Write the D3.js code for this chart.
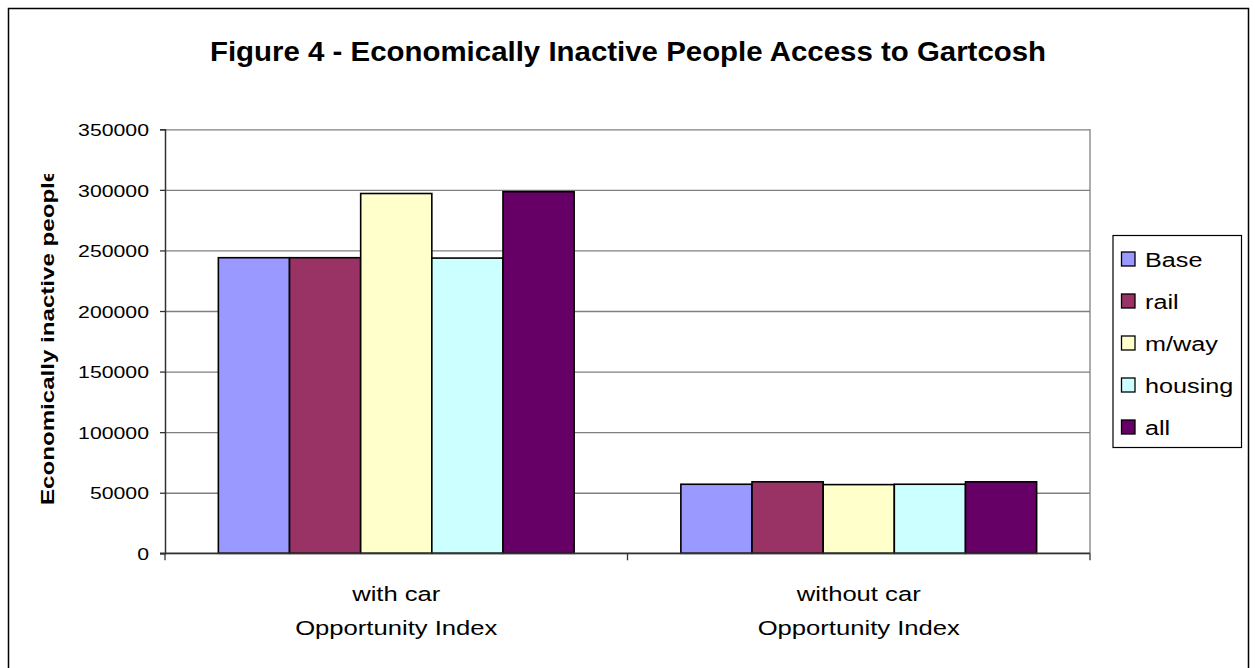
<!DOCTYPE html>
<html>
<head>
<meta charset="utf-8">
<script src="https://cdn.jsdelivr.net/npm/d3@7"></script>
<style>
  html, body { margin: 0; padding: 0; background: #fff; }
  svg { display: block; font-family: "Liberation Sans", Arial, sans-serif; }
</style>
</head>
<body>
<svg id="chart" width="1255" height="668"></svg>
<script>
// Chart data
const categories = ["with car", "without car"];
const categorySubLabel = "Opportunity Index";
const seriesNames = ["Base", "rail", "m/way", "housing", "all"];
const seriesColors = ["#9999FF", "#993366", "#FFFFCC", "#CCFFFF", "#660066"];
const baseValues    = [244000, 57000];
const railValues    = [244000, 59000];
const mwayValues    = [297000, 56700];
const housingValues = [243700, 57000];
const allValues     = [298500, 59000];
const yTickValues = [0, 50000, 100000, 150000, 200000, 250000, 300000, 350000];
const titleText = "Figure 4 - Economically Inactive People Access to Gartcosh";
const yAxisTitle = "Economically inactive people";

const seriesValues = [baseValues, railValues, mwayValues, housingValues, allValues];

const svg = d3.select("#chart");
const plot = { left: 165, right: 1090, top: 129.3, bottom: 553.3 };
const stretch = 1.25; // horizontal widening of the text glyphs

// Outer chart border
svg.append("rect")
  .attr("x", 8.5).attr("y", 8.5)
  .attr("width", 1240).attr("height", 700)
  .attr("fill", "#fff").attr("stroke", "#000").attr("stroke-width", 1.5);

// Title
svg.append("text")
  .attr("transform", `translate(628,61) scale(1.09,1)`)
  .attr("text-anchor", "middle")
  .attr("font-weight", "bold")
  .attr("font-size", 27)
  .text(titleText);

// Scales
const y = d3.scaleLinear().domain([0, 350000]).range([plot.bottom, plot.top]);
const x0 = d3.scaleBand().domain(categories)
  .range([plot.left, plot.right])
  .paddingInner(1.5 / 6.5).paddingOuter(0.75 / 6.5);
const x1 = d3.scaleBand().domain(seriesNames).range([0, x0.bandwidth()]).padding(0);
const color = d3.scaleOrdinal().domain(seriesNames).range(seriesColors);

// Gridlines
const grid = svg.append("g")
  .attr("transform", `translate(${plot.left},0)`)
  .call(d3.axisLeft(y).tickValues(yTickValues).tickSize(-(plot.right - plot.left)).tickFormat(""));
grid.select(".domain").remove();
grid.selectAll(".tick line").attr("stroke", "#808080").attr("stroke-width", 1.3);

// Plot area right border
svg.append("line")
  .attr("x1", plot.right).attr("x2", plot.right)
  .attr("y1", plot.top).attr("y2", plot.bottom)
  .attr("stroke", "#808080").attr("stroke-width", 1.3);

// Bars
const rows = seriesNames.map((name, i) => ({ name, values: seriesValues[i] }));
const barData = [];
categories.forEach((cat, ci) => {
  rows.forEach(r => barData.push({ cat, name: r.name, value: r.values[ci] }));
});
svg.append("g").selectAll("rect")
  .data(barData)
  .join("rect")
  .attr("x", d => x0(d.cat) + x1(d.name))
  .attr("y", d => y(d.value))
  .attr("width", x1.bandwidth())
  .attr("height", d => y(0) - y(d.value))
  .attr("fill", d => color(d.name))
  .attr("stroke", "#000")
  .attr("stroke-width", 1.6);

// Y axis
const yAxis = svg.append("g")
  .attr("transform", `translate(${plot.left},0)`)
  .call(d3.axisLeft(y).tickValues(yTickValues).tickSize(5).tickFormat(d => String(d)));
yAxis.select(".domain").attr("stroke", "#333").attr("stroke-width", 1.5);
yAxis.selectAll(".tick line").attr("stroke", "#333").attr("stroke-width", 1.3);
yAxis.selectAll(".tick text")
  .attr("font-family", "'Liberation Sans', Arial, sans-serif")
  .attr("font-size", 17)
  .attr("fill", "#000")
  .attr("x", -16 / stretch)
  .attr("dy", "0.36em")
  .attr("transform", `scale(${stretch},1)`);

// X axis
const catBounds = [plot.left, (plot.left + plot.right) / 2, plot.right];
const xAxis = svg.append("g");
xAxis.append("line")
  .attr("x1", plot.left - 5).attr("x2", plot.right)
  .attr("y1", plot.bottom).attr("y2", plot.bottom)
  .attr("stroke", "#333").attr("stroke-width", 1.5);
xAxis.selectAll(".xtick")
  .data(catBounds)
  .join("line")
  .attr("class", "xtick")
  .attr("x1", d => d).attr("x2", d => d)
  .attr("y1", plot.bottom).attr("y2", plot.bottom + 7)
  .attr("stroke", "#333").attr("stroke-width", 1.3);

const catLabels = xAxis.selectAll(".cat")
  .data(categories)
  .join("g")
  .attr("class", "cat")
  .attr("transform", d => `translate(${x0(d) + x0.bandwidth() / 2},0)`);
catLabels.append("text")
  .attr("transform", `translate(0,601) scale(${stretch},1)`)
  .attr("text-anchor", "middle")
  .attr("font-size", 20.5)
  .text(d => d);
catLabels.append("text")
  .attr("transform", `translate(0,635) scale(${stretch},1)`)
  .attr("text-anchor", "middle")
  .attr("font-size", 20.5)
  .text(categorySubLabel);

// Y axis title, clipped at the top edge of its frame
svg.append("clipPath").attr("id", "ytitle-clip")
  .append("rect").attr("x", 0).attr("y", 174).attr("width", 100).attr("height", 400);
svg.append("g").attr("clip-path", "url(#ytitle-clip)")
  .append("text")
  .attr("transform", `translate(54,505) rotate(-90) scale(1.34,1)`)
  .attr("text-anchor", "start")
  .attr("font-weight", "bold")
  .attr("font-size", 18)
  .text(yAxisTitle);

// Legend
const legend = svg.append("g");
legend.append("rect")
  .attr("x", 1113).attr("y", 235.5)
  .attr("width", 128.5).attr("height", 212)
  .attr("fill", "#fff").attr("stroke", "#000").attr("stroke-width", 1.2);
const legendRow = d3.scaleLinear().domain([0, seriesNames.length - 1]).range([259, 427]);
const items = legend.selectAll(".item")
  .data(seriesNames)
  .join("g")
  .attr("class", "item")
  .attr("transform", (d, i) => `translate(0,${legendRow(i)})`);
items.append("rect")
  .attr("x", 1121.5).attr("y", -7)
  .attr("width", 13.5).attr("height", 14)
  .attr("fill", d => color(d))
  .attr("stroke", "#000").attr("stroke-width", 1.3);
items.append("text")
  .attr("transform", `translate(1145,7.5) scale(1.2,1)`)
  .attr("font-size", 21)
  .text(d => d);
</script>
</body>
</html>
